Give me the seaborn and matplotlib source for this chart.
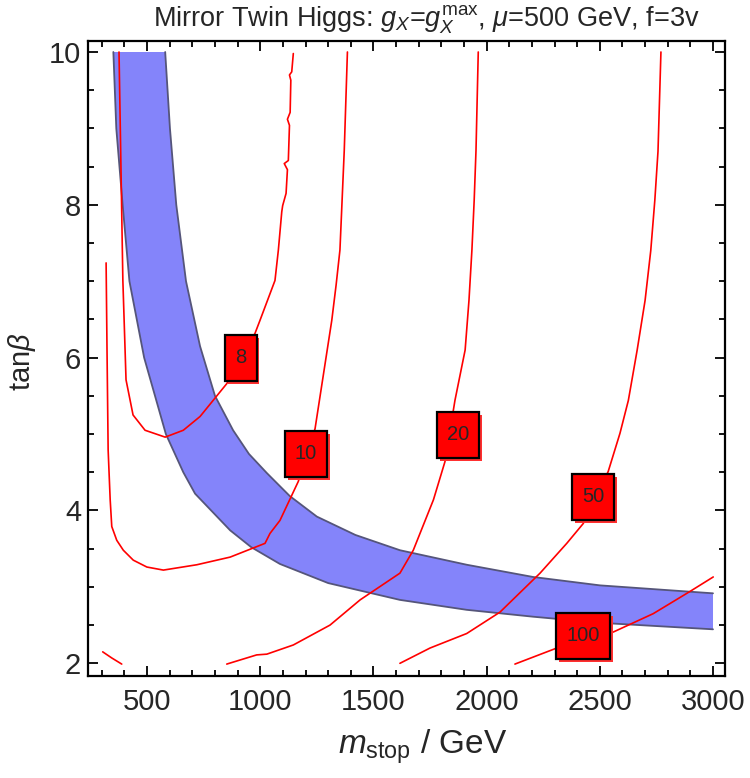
import numpy as np
import pandas as pd
import matplotlib
matplotlib.use('Agg')
import matplotlib.pyplot as plt
import matplotlib.patheffects as pe
from matplotlib.path import Path
import seaborn as sns

# band edges (m_stop, tan beta)
band_lo_x = [351, 364, 392, 422, 487, 583, 660, 712, 867, 960, 1087, 1300, 1617, 1912, 2205, 2501, 3000]
band_lo_y = [10.0, 9.0, 8.0, 7.0, 6.0, 5.0, 4.5, 4.22, 3.74, 3.52, 3.30, 3.05, 2.83, 2.70, 2.61, 2.53, 2.445]
band_hi_x = [580, 601, 629, 672, 734, 800, 880, 950, 1029, 1130, 1250, 1420, 1617, 1912, 2205, 2501, 3000]
band_hi_y = [10.0, 9.0, 8.0, 7.0, 6.15, 5.5, 5.05, 4.74, 4.49, 4.19, 3.92, 3.68, 3.48, 3.29, 3.13, 3.02, 2.916]

# contour lines
c8_x = [376, 393, 407, 438, 491, 580, 660, 734, 852, 977, 999, 1065, 1080, 1095, 1099, 1114, 1120,
        1106, 1124, 1129, 1120, 1132, 1135, 1129, 1139, 1146]
c8_y = [10.0, 7.01, 5.71, 5.25, 5.05, 4.96, 5.05, 5.23, 5.66, 6.32, 6.49, 7.01, 7.41, 7.91, 7.99, 8.15, 8.46,
        8.54, 8.58, 9.04, 9.12, 9.21, 9.63, 9.70, 9.74, 9.98]
c10_x = [319, 323, 328, 337, 344, 366, 395, 439, 499, 572, 720, 867, 1021, 1043, 1087, 1168, 1242,
         1316, 1335, 1352, 1371, 1385]
c10_y = [7.24, 6.10, 4.79, 4.14, 3.79, 3.61, 3.48, 3.35, 3.26, 3.22, 3.29, 3.39, 3.57, 3.70, 3.87, 4.38, 5.07,
         6.49, 6.95, 7.41, 8.71, 10.0]
c20_x = [852, 984, 1029, 1146, 1308, 1441, 1617, 1676, 1765, 1816, 1860, 1905, 1922, 1935, 1945, 1953, 1963]
c20_y = [1.99, 2.11, 2.12, 2.24, 2.50, 2.83, 3.18, 3.48, 4.14, 4.64, 5.44, 6.10, 6.75, 7.41, 8.06, 8.71, 10.0]
c20b_x = [304, 344, 388]
c20b_y = [2.15, 2.07, 1.99]
c50_x = [1617, 1750, 1912, 2059, 2236, 2354, 2427, 2537, 2589, 2626, 2665, 2700, 2725, 2743, 2757, 2770]
c50_y = [2.0, 2.20, 2.39, 2.67, 3.18, 3.57, 3.83, 4.51, 5.01, 5.44, 6.1, 6.75, 7.4, 8.06, 8.7, 10.0]
c100_x = [2125, 2310, 2560, 2736, 2898, 3001]
c100_y = [1.99, 2.2, 2.41, 2.65, 2.94, 3.13]

label_txt = ['8', '10', '20', '50', '100']
label_x = [915, 1202, 1874, 2470, 2426]
label_y = [6.0, 4.74, 4.99, 4.18, 2.36]

segs = [('8', c8_x, c8_y), ('10', c10_x, c10_y), ('20', c20_x, c20_y),
        ('20b', c20b_x, c20b_y), ('50', c50_x, c50_y), ('100', c100_x, c100_y)]
df = pd.concat([pd.DataFrame({'seg': s, 'x': xs, 'y': ys}) for s, xs, ys in segs],
               ignore_index=True)

sns.set_style('ticks')
plt.rcParams['font.family'] = ['Liberation Sans', 'DejaVu Sans']
plt.rcParams['mathtext.fontset'] = 'custom'
plt.rcParams['mathtext.rm'] = 'Liberation Sans'
plt.rcParams['mathtext.it'] = 'Liberation Sans:italic'

fig = plt.figure(figsize=(7.5, 7.78), dpi=100)
ax = fig.add_axes([88 / 750, 1 - 676 / 778, 637 / 750, 635 / 778])

# band
poly_x = np.r_[band_lo_x, band_hi_x[::-1]]
poly_y = np.r_[band_lo_y, band_hi_y[::-1]]
ax.fill(poly_x, poly_y, color='#8484FA', lw=0, zorder=1)
ax.plot(band_lo_x, band_lo_y, color='#55557a', lw=1.3, zorder=2)
ax.plot(band_hi_x, band_hi_y, color='#55557a', lw=1.3, zorder=2)

sns.lineplot(data=df, x='x', y='y', units='seg', estimator=None, sort=False,
             color='#ff0000', lw=1.2, ax=ax, zorder=3, legend=False)


def label_box(x0, y0, width, height, mutation_size):
    px = 0.5 * mutation_size
    py = 0.67 * mutation_size
    x0, y0 = x0 - px, y0 - py
    x1, y1 = x0 + width + 2 * px, y0 + height + 2 * py
    return Path([(x0, y0), (x1, y0), (x1, y1), (x0, y1), (x0, y0)], closed=True)


for t, lx, ly in zip(label_txt, label_x, label_y):
    txt = ax.text(lx, ly, t, fontsize=14.5, ha='center', va='center', zorder=5,
                  bbox=dict(boxstyle=label_box, fc='#ff0000', ec='black', lw=1.6))
    txt.get_bbox_patch().set_path_effects([
        pe.SimplePatchShadow(offset=(2, -2.5), shadow_rgbFace='#ff3030', alpha=1.0),
        pe.Normal()])

ax.set_xlim(239, 3053)
ax.set_ylim(1.834, 10.144)
ax.set_xticks([500, 1000, 1500, 2000, 2500, 3000])
ax.set_xticks(np.arange(300, 3001, 100), minor=True)
ax.set_yticks([2, 4, 6, 8, 10])
ax.set_yticks(np.arange(2, 10.01, 0.5), minor=True)
ax.tick_params(which='both', direction='in', top=True, right=True, width=1.3, color='black')
ax.tick_params(which='major', length=7)
ax.tick_params(which='minor', length=4)
ax.tick_params(axis='x', labelsize=21, pad=9)
ax.tick_params(axis='y', labelsize=21, pad=5)
for sp in ax.spines.values():
    sp.set_linewidth(1.6)
    sp.set_color('black')

ax.set_xlabel(r'$m_{\rm stop}$ / GeV', fontsize=24)
ax.set_ylabel(r'tan$\beta$', fontsize=21)
ax.xaxis.set_label_coords((423 - 88) / 637, (676 - 727) / 635)
ax.yaxis.set_label_coords((38 - 88) / 637, (676 - 362) / 635)
ax.xaxis.label.set_va('top')

fig.text(426 / 750, 1 - 3 / 778,
         r'Mirror Twin Higgs: $g_X$=$g_X^{\rm max}$, $\mu$=500 GeV, f=3v',
         fontsize=19.5, ha='center', va='top')

fig.savefig('out.png', dpi=100)
